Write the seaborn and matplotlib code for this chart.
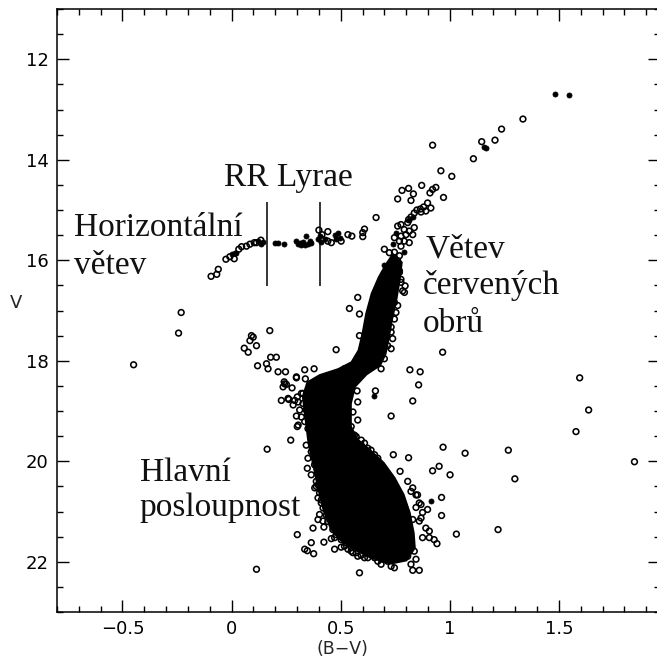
import matplotlib
matplotlib.use("Agg")
import matplotlib.pyplot as plt
import seaborn as sns
import pandas as pd
from matplotlib.ticker import MultipleLocator, FixedLocator, FixedFormatter

sns.set_theme(style="ticks")
plt.rcParams['font.family'] = ['DejaVu Sans']

# ---------------------------------------------------------------- data
# bright giants (open symbols)
giant_bv = [1.335, 1.237, 1.207, 1.146, 0.921, 1.108, 0.959, 1.009, 0.871, 0.936,
            0.921, 0.909, 0.971, 0.781, 0.811, 0.833, 0.822, 0.761, 0.898, 0.880,
            0.865, 0.849, 0.837, 0.822, 0.811, 0.913, 0.890, 0.868, 0.662, 0.609,
            0.601, 0.601]
giant_v = [13.19, 13.39, 13.61, 13.64, 13.71, 13.98, 14.22, 14.33, 14.51, 14.55,
           14.59, 14.66, 14.75, 14.61, 14.57, 14.68, 14.81, 14.78, 14.86, 14.94,
           14.98, 15.00, 15.06, 15.14, 15.19, 14.96, 15.02, 15.04, 15.15, 15.38,
           15.45, 15.53]
# bright giants (filled symbols)
giant_f_bv = [1.484, 1.545, 1.157, 1.165]
giant_f_v = [12.69, 12.71, 13.74, 13.76]

# red giant branch (open symbols)
rgb_bv = [0.807, 0.776, 0.761, 0.791, 0.814, 0.837, 0.830, 0.799, 0.776, 0.746,
          0.769, 0.791, 0.814, 0.776, 0.700, 0.723, 0.746, 0.769, 0.746, 0.761,
          0.731, 0.738, 0.769, 0.715, 0.746, 0.795, 0.769, 0.776, 0.784, 0.746,
          0.753, 0.731, 0.738, 0.731, 0.647, 0.662, 0.670, 0.655, 0.685, 0.692,
          0.655, 0.639, 0.624, 0.609, 0.594, 0.616, 0.586, 0.557, 0.578, 0.540,
          0.586, 0.601, 0.517, 0.776, 0.792, 0.761, 0.746, 0.731, 0.715, 0.700,
          0.685]
rgb_v = [15.25, 15.29, 15.32, 15.39, 15.42, 15.35, 15.49, 15.49, 15.52, 15.55,
         15.62, 15.62, 15.65, 15.72, 15.78, 15.85, 15.84, 15.91, 15.95, 16.01,
         16.05, 16.18, 16.21, 16.31, 16.31, 16.51, 16.24, 16.38, 16.61, 16.84,
         17.04, 17.33, 17.56, 17.76, 16.84, 16.80, 16.90, 17.04, 17.17, 17.30,
         17.37, 17.53, 17.63, 17.76, 17.83, 17.93, 18.03, 18.09, 16.74, 16.96,
         17.07, 17.96, 18.16, 16.44, 16.64, 16.90, 17.17, 17.43, 17.70, 17.96,
         18.16]
# red giant branch (filled symbols)
rgb_f_bv = [0.830, 0.814, 0.753, 0.738, 0.791, 0.715, 0.700]
rgb_f_v = [15.13, 15.19, 15.45, 15.67, 15.84, 16.18, 16.10]

# horizontal branch (open symbols)
hb_bv = [-0.231, -0.094, -0.068, -0.061, -0.026, -0.008, 0.012, 0.033, 0.046, 0.068,
         0.084, 0.104, 0.114, 0.134, 0.414, 0.441, 0.441, 0.457, 0.502, 0.533,
         0.551, 0.400]
hb_v = [17.04, 16.32, 16.28, 16.18, 15.98, 15.93, 15.97, 15.78, 15.73, 15.72,
        15.68, 15.65, 15.65, 15.60, 15.49, 15.43, 15.62, 15.65, 15.62, 15.49,
        15.52, 15.40]
# horizontal branch and RR Lyrae variables (filled symbols)
hb_f_bv = [0.000, 0.015, 0.022, 0.122, 0.145, 0.137, 0.198, 0.213, 0.241, 0.297,
           0.312, 0.327, 0.342, 0.350, 0.335, 0.320, 0.305, 0.358, 0.365, 0.396,
           0.411, 0.426, 0.472, 0.487, 0.495, 0.479, 0.403]
hb_f_v = [15.87, 15.85, 15.86, 15.62, 15.64, 15.68, 15.65, 15.66, 15.68, 15.62,
          15.65, 15.64, 15.52, 15.68, 15.70, 15.70, 15.68, 15.62, 15.66, 15.58,
          15.64, 15.57, 15.49, 15.45, 15.55, 15.58, 15.52]

# blue stragglers and field stars
field_bv = [-0.243, -0.449, 0.091, 0.084, 0.058, 0.076, 0.114, 0.099, 0.175, 0.119,
            0.160, 0.167, 0.179, 0.205, 0.213, 0.247, 0.241, 0.251, 0.236, 0.277,
            0.297, 0.335, 0.378, 0.338, 0.228, 0.262, 0.282, 0.301, 0.327, 0.312,
            0.297, 0.301, 0.271, 0.289, 0.163, 0.114, 0.586, 0.479, 0.967, 0.817,
            0.864, 0.857, 0.830, 0.731, 1.595, 1.636, 1.578, 1.846, 0.969, 1.070,
            1.268, 1.298, 1.001, 0.951, 0.921, 0.962, 0.962, 1.030, 1.221, 0.741,
            0.811, 0.772, 0.586]
field_v = [17.45, 18.08, 17.50, 17.60, 17.75, 17.83, 17.70, 17.53, 17.40, 18.10,
           18.06, 18.16, 17.93, 17.93, 18.22, 18.22, 18.42, 18.47, 18.52, 18.54,
           18.34, 18.18, 18.16, 18.36, 18.79, 18.77, 18.88, 18.72, 18.65, 18.98,
           19.10, 19.31, 19.58, 18.79, 19.76, 22.15, 17.50, 17.78, 17.83, 18.18,
           18.22, 18.48, 18.80, 19.10, 18.34, 18.98, 19.41, 20.01, 19.72, 19.84,
           19.78, 20.35, 20.27, 20.10, 20.19, 20.72, 21.08, 21.45, 21.36, 19.87,
           19.93, 20.20, 22.22]

# main sequence and turn-off stars outside the crowded core
ms_bv = [0.347, 0.365, 0.381, 0.396, 0.411, 0.403, 0.419, 0.373, 0.423, 0.301,
         0.365, 0.347, 0.376, 0.423, 0.335, 0.457, 0.472, 0.502, 0.533, 0.556,
         0.578, 0.396, 0.426, 0.434, 0.396, 0.297, 0.243, 0.259, 0.305, 0.320,
         0.305, 0.335, 0.540, 0.578, 0.556, 0.578, 0.659, 0.571, 0.594, 0.624,
         0.655, 0.678, 0.807, 0.822, 0.845, 0.868, 0.898, 0.868, 0.890, 0.906,
         0.875, 0.928, 0.941, 0.837, 0.845, 0.860, 0.830, 0.746, 0.731, 0.685,
         0.692, 0.822, 0.517, 0.548, 0.609, 0.639, 0.670, 0.472, 0.830, 0.852,
         0.860, 0.845, 0.875, 0.830, 0.860, 0.906, 0.814, 0.807]
ms_v = [20.14, 20.27, 20.53, 20.73, 20.83, 21.06, 21.19, 21.33, 21.31, 21.46,
        21.62, 21.78, 21.84, 21.61, 21.75, 21.54, 21.75, 21.71, 21.75, 21.82,
        21.89, 21.16, 20.80, 20.67, 20.47, 18.32, 18.46, 18.75, 18.82, 19.12,
        19.28, 19.21, 18.68, 18.82, 19.02, 19.18, 18.60, 19.51, 19.68, 19.74,
        19.87, 20.04, 20.40, 20.60, 20.67, 20.86, 20.96, 21.13, 21.33, 21.52,
        21.52, 21.56, 21.64, 21.79, 21.95, 22.17, 22.17, 22.12, 22.09, 22.05,
        21.92, 22.05, 21.69, 21.79, 21.92, 21.86, 21.99, 21.52, 20.53, 20.67,
        20.83, 20.92, 21.02, 21.16, 21.19, 21.39, 21.69, 21.89]
ms_f_bv = [0.913, 0.653]
ms_f_v = [20.80, 18.71]

# stars on the rim of the crowded core
rim_bv = [0.320, 0.327, 0.342, 0.350, 0.365, 0.342, 0.350, 0.365, 0.380, 0.396,
          0.388, 0.553, 0.575, 0.548, 0.563, 0.594, 0.609, 0.639, 0.670, 0.693,
          0.715, 0.738, 0.388, 0.403, 0.411, 0.419, 0.434, 0.441, 0.464, 0.479,
          0.502, 0.525, 0.548, 0.571, 0.594, 0.624, 0.655, 0.685, 0.715]
rim_v = [18.65, 18.85, 18.98, 19.35, 19.48, 19.68, 19.94, 19.81, 20.07, 20.27,
         20.40, 18.46, 18.60, 19.31, 19.48, 19.58, 19.64, 19.78, 19.94, 20.14,
         20.27, 20.44, 20.50, 20.63, 20.77, 20.93, 21.07, 21.20, 21.36, 21.46,
         21.56, 21.62, 21.72, 21.82, 21.87, 21.92, 21.92, 21.95, 21.99]

# outline of the crowded core (main sequence, sub-giant and lower giant branch)
core_bv = [0.740, 0.776, 0.767, 0.752, 0.732, 0.716, 0.702, 0.678, 0.616, 0.562,
           0.543, 0.543, 0.575, 0.630, 0.694, 0.744, 0.785, 0.813, 0.831, 0.836,
           0.799, 0.731, 0.648, 0.571, 0.502, 0.457, 0.425, 0.402, 0.379, 0.356,
           0.342, 0.330, 0.350, 0.405, 0.490, 0.552, 0.585, 0.603, 0.620, 0.645,
           0.678, 0.712]
core_v = [15.90, 16.05, 16.38, 16.77, 17.17, 17.56, 17.86, 18.08, 18.26, 18.51,
          18.85, 19.31, 19.58, 19.78, 20.04, 20.34, 20.67, 21.03, 21.43, 21.72,
          21.96, 22.02, 21.92, 21.76, 21.56, 21.33, 20.97, 20.57, 20.10, 19.64,
          19.15, 18.71, 18.44, 18.30, 18.18, 18.04, 17.80, 17.47, 17.07, 16.67,
          16.34, 16.08]

# instability strip boundaries of the RR Lyrae gap
rr_edges_bv = [0.163, 0.404]
rr_edges_v = [14.85, 16.51]

x_ticks = [-0.5, 0, 0.5, 1, 1.5]
x_tick_labels = ['\u22120.5', '0', '0.5', '1', '1.5']
y_ticks = [12, 14, 16, 18, 20, 22]
y_tick_labels = ['12', '14', '16', '18', '20', '22']

labels = [
    ("RR Lyrae", -0.037, 14.53),
    ("Horizontální", -0.721, 15.52),
    ("větev", -0.721, 16.28),
    ("Větev", 0.890, 15.94),
    ("červených", 0.877, 16.67),
    ("obrů", 0.877, 17.43),
    ("Hlavní", -0.420, 20.40),
    ("posloupnost", -0.420, 21.09),
]

# ---------------------------------------------------------------- figure
fig = plt.figure(figsize=(6.57, 6.59), dpi=100)
ax = fig.add_axes([57 / 657, 1 - 612 / 659, (660 - 57) / 657, (612 - 9) / 659])
ax.set_facecolor('white')

ax.fill(core_bv, core_v, facecolor='black', edgecolor='black', lw=2.5, zorder=2)

open_sets = [(giant_bv, giant_v), (rgb_bv, rgb_v), (hb_bv, hb_v),
             (field_bv, field_v), (ms_bv, ms_v), (rim_bv, rim_v)]
for bv, v in open_sets:
    df = pd.DataFrame({"bv": bv, "v": v})
    sns.scatterplot(data=df, x="bv", y="v", ax=ax, marker='o', s=17,
                    facecolors='none', edgecolor='black', linewidth=1.15,
                    legend=False, zorder=3)
    ax.collections[-1].set_facecolor('none')

filled_sets = [(giant_f_bv, giant_f_v), (rgb_f_bv, rgb_f_v),
               (hb_f_bv, hb_f_v), (ms_f_bv, ms_f_v)]
for bv, v in filled_sets:
    df = pd.DataFrame({"bv": bv, "v": v})
    sns.scatterplot(data=df, x="bv", y="v", ax=ax, marker='o', s=13,
                    color='black', edgecolor='black', linewidth=0.6,
                    legend=False, zorder=3)

ax.vlines(rr_edges_bv, rr_edges_v[0], rr_edges_v[1], colors='black', lw=1.1, zorder=4)

for txt, x, y in labels:
    ax.text(x, y, txt, fontfamily='Liberation Serif', fontsize=24,
            ha='left', va='baseline', color='#111111', zorder=5)

ax.set_xlim(-0.8, 1.963)
ax.set_ylim(23, 11)

ax.xaxis.set_major_locator(FixedLocator(x_ticks))
ax.xaxis.set_major_formatter(FixedFormatter(x_tick_labels))
ax.xaxis.set_minor_locator(MultipleLocator(0.1))
ax.yaxis.set_major_locator(FixedLocator(y_ticks))
ax.yaxis.set_major_formatter(FixedFormatter(y_tick_labels))
ax.yaxis.set_minor_locator(MultipleLocator(0.5))

ax.tick_params(which='both', direction='in', top=True, right=True,
               width=1.0, colors='black', labelsize=13, pad=6)
ax.tick_params(which='major', length=8.5)
ax.tick_params(which='minor', length=4.3)
for sp in ax.spines.values():
    sp.set_linewidth(1.1)
    sp.set_color('black')

ax.set_xlabel('(B\u2212V)', fontsize=12.5)
ax.xaxis.set_label_coords(0.473, -0.046)
ax.set_ylabel('V', fontsize=13, rotation=0, ha='center', va='center')
ax.yaxis.set_label_coords(-0.068, 0.512)

fig.savefig('out.png', dpi=100, facecolor='white')
